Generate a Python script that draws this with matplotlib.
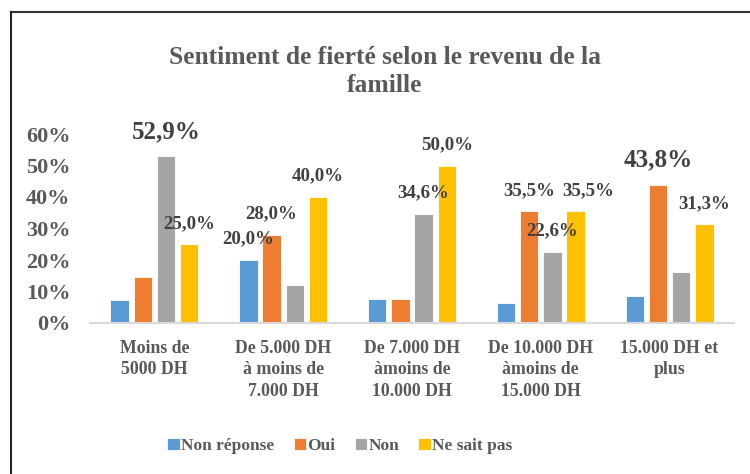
import numpy as np
import matplotlib
matplotlib.use("Agg")
import matplotlib.pyplot as plt
from matplotlib.lines import Line2D

# données
categories = ["Moins de\n5000 DH", "De 5.000 DH\nà moins de\n7.000 DH",
              "De 7.000 DH\nàmoins de\n10.000 DH", "De 10.000 DH\nàmoins de\n15.000 DH",
              "15.000 DH et\nplus"]
series = ["Non réponse", "Oui", "Non", "Ne sait pas"]
non_reponse = [7.3, 20.0, 7.7, 6.4, 8.7]
oui = [14.7, 28.0, 7.7, 35.5, 43.8]
non = [52.9, 12.0, 34.6, 22.6, 16.2]
ne_sait_pas = [25.0, 40.0, 50.0, 35.5, 31.3]
# étiquettes visibles : (série, catégorie, grande police)
shown_labels = [(2, 0, True), (3, 0, False),
                (0, 1, False), (1, 1, False), (3, 1, False),
                (2, 2, False), (3, 2, False),
                (1, 3, False), (2, 3, False), (3, 3, False),
                (1, 4, True), (3, 4, False)]

colors = ["#5B9BD5", "#ED7D31", "#A5A5A5", "#FFC000"]
values = [non_reponse, oui, non, ne_sait_pas]

plt.rcParams['font.family'] = ['Liberation Serif', 'DejaVu Serif']
plt.rcParams['font.weight'] = 'bold'

fig = plt.figure(figsize=(7.5, 4.74), dpi=100)
ax = fig.add_axes([90/750, 1-323/474, (734-90)/750, (323-134)/474])

x = np.arange(len(categories))
pitch, width = 0.18, 0.143
bars = []
for i, (name, vals) in enumerate(zip(series, values)):
    b = ax.bar(x + (i - 1.5) * pitch, np.array(vals) / 100, width,
               color=colors[i], label=name, edgecolor="white", linewidth=0.6)
    bars.append(b)

for s, c, big in shown_labels:
    rect = bars[s][c]
    v = values[s][c]
    dx = 9 if (s, c) == (3, 3) else 0  # décalé comme dans Excel
    ax.annotate(f"{v:.1f}%".replace(".", ","),
                (rect.get_x() + rect.get_width() / 2, rect.get_height()),
                xytext=(dx, 18 if big else 15), textcoords="offset points",
                ha="center", va="center", fontsize=18 if big else 13.6,
                fontweight="bold", color="#404040")

ax.set_xlim(-0.5, len(categories) - 0.5)
ax.set_ylim(0, 0.6)
ax.set_yticks(np.arange(0, 0.61, 0.1))
ax.set_yticklabels([f"{int(round(t*100))}%" for t in np.arange(0, 0.61, 0.1)])
ax.set_xticks(x)
ax.set_xticklabels(categories, linespacing=1.36)
ax.tick_params(axis="y", length=0, pad=14, labelsize=16, labelcolor="#595959")
ax.tick_params(axis="x", length=0, pad=12, labelsize=12.8, labelcolor="#595959")
for sp in ["top", "right", "left"]:
    ax.spines[sp].set_visible(False)
ax.spines["bottom"].set_color("#D9D9D9")
ax.spines["bottom"].set_linewidth(1.5)

fig.text(385/750, 1-71.5/474, "Sentiment de fierté selon le revenu de la\nfamille",
         ha="center", va="center", fontsize=18.4, fontweight="bold",
         color="#595959", linespacing=1.29)

leg = fig.legend(loc="center", bbox_to_anchor=(340/750, 1-446/474), ncol=4,
                 frameon=False, fontsize=12.5, handlelength=0.7, handleheight=0.7,
                 handletextpad=0.1, columnspacing=1.1)
for t in leg.get_texts():
    t.set_color("#595959")

# cadre
fig.add_artist(Line2D([11/750, 1], [1-12/474, 1-12/474], color="#333333", lw=1.5))
fig.add_artist(Line2D([11/750, 11/750], [0, 1-12/474], color="#222222", lw=1.5))

fig.savefig("out.png", dpi=100)
